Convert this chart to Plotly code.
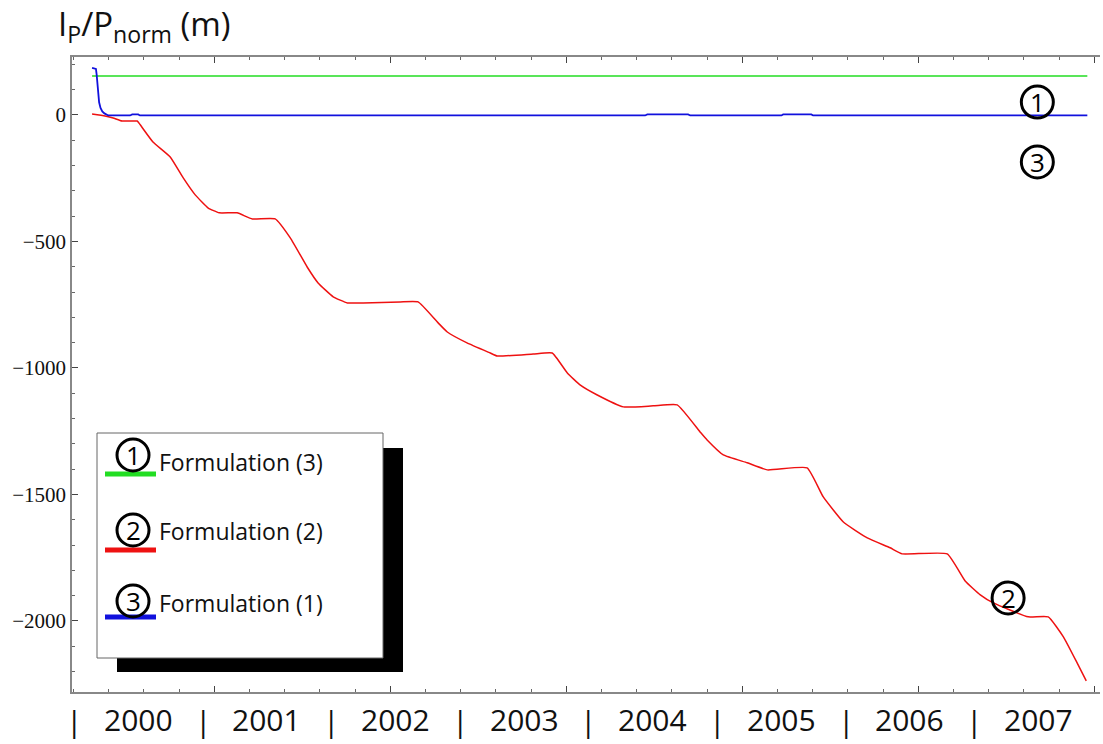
import plotly.graph_objects as go

# Time axis: days counted from 1 January 2000
red_day = [51, 88, 111, 136, 179, 182, 224, 273, 310, 344, 381, 412, 463, 506, 571,
           614, 662, 693, 736, 776, 821, 926, 977, 1034, 1060, 1116, 1182, 1202, 1304,
           1358, 1401, 1437, 1486, 1560, 1645, 1713, 1778, 1798, 1844, 1912, 1969, 2082,
           2128, 2185, 2253, 2318, 2352, 2480, 2531, 2574, 2611, 2710, 2767, 2810, 2849,
           2875]
red_val = [4, -4, -12, -24, -24, -28, -107, -166, -249, -316, -368, -387, -387, -411,
           -411, -486, -601, -664, -719, -743, -743, -739, -739, -822, -858, -901, -941,
           -953, -945, -941, -1020, -1067, -1107, -1154, -1150, -1146, -1253, -1285,
           -1344, -1375, -1403, -1395, -1510, -1609, -1672, -1711, -1735, -1735, -1842,
           -1897, -1929, -1984, -1984, -2063, -2166, -2237]

blue_day = [51, 62, 64, 66, 68, 71, 75, 80, 86, 97, 159, 165, 182, 187, 1622, 1628,
            1744, 1750, 2009, 2014, 2094, 2099, 2878]
blue_val = [186, 182, 160, 120, 82, 50, 28, 14, 6, -2, -2, 2, 2, -2, -2, 2, 2, -2, -2,
            2, 2, -2, -2]

green_day = [51, 2878]
green_val = [154, 154]

years = ["2000", "2001", "2002", "2003", "2004", "2005", "2006", "2007"]
legend_labels = ["Formulation (3)", "Formulation (2)", "Formulation (1)"]
legend_marks = ["1", "2", "3"]
legend_colors = ["#22dd22", "#ee1111", "#1111dd"]

YEAR_DAYS = 365.25
W, H = 1103, 744
ML, MR, MT, MB = 72, 3, 57, 52
PW, PH = W - ML - MR, H - MT - MB


def px_x(px):
    return (px - ML) / PW


def px_y(py):
    return (H - MB - py) / PH


fig = go.Figure()
fig.add_trace(go.Scatter(x=green_day, y=green_val, mode="lines",
                         line=dict(color="#22dd22", width=1.6), name=legend_labels[0]))
fig.add_trace(go.Scatter(x=red_day, y=red_val, mode="lines",
                         line=dict(color="#ee1111", width=1.5, shape="spline", smoothing=0.4),
                         name=legend_labels[1]))
fig.add_trace(go.Scatter(x=blue_day, y=blue_val, mode="lines",
                         line=dict(color="#1111dd", width=1.8), name=legend_labels[2]))

shapes = []
annotations = []

# y-axis title
annotations.append(dict(
    x=px_x(56), y=px_y(52), xref="paper", yref="paper", xanchor="left", yanchor="bottom",
    text="I<sub>P</sub>/P<sub>norm</sub> (m)", showarrow=False,
    font=dict(family="Open Sans", size=33, color="#111111")))

# Year labels and separators below the axis
for k, yr in enumerate(years):
    annotations.append(dict(
        x=(k + 0.5) * YEAR_DAYS, y=px_y(719), xref="x", yref="paper",
        xanchor="center", yanchor="middle", text=yr, showarrow=False,
        font=dict(family="Open Sans", size=30, color="#111111")))
for k in range(len(years) + 1):
    annotations.append(dict(
        x=k * YEAR_DAYS, y=px_y(720), xref="x", yref="paper",
        xanchor="center", yanchor="middle", text="|", showarrow=False,
        font=dict(family="Open Sans", size=30, color="#111111")))


def circled(xa, ya, xref, yref, digit, r=16):
    shapes.append(dict(type="circle", xref=xref, yref=yref,
                       xsizemode="pixel", ysizemode="pixel",
                       xanchor=xa, yanchor=ya, x0=-r, x1=r, y0=-r, y1=r,
                       line=dict(color="black", width=3), fillcolor="rgba(0,0,0,0)"))
    annotations.append(dict(x=xa, y=ya, xref=xref, yref=yref, text=digit,
                            showarrow=False, xanchor="center", yanchor="middle",
                            font=dict(family="Open Sans", size=26, color="black")))


# Curve tags
circled(2736, 51, "x", "y", "1")
circled(2736, -186, "x", "y", "3")
circled(2653, -1909, "x", "y", "2")

# Legend panel with drop shadow
shapes.append(dict(type="rect", xref="paper", yref="paper",
                   x0=px_x(117), x1=px_x(403), y0=px_y(672), y1=px_y(448),
                   fillcolor="black", line=dict(width=0)))
shapes.append(dict(type="rect", xref="paper", yref="paper",
                   x0=px_x(97), x1=px_x(383), y0=px_y(658), y1=px_y(433),
                   fillcolor="white", line=dict(color="#666666", width=1)))

row_text_y = [462, 531, 603]
row_mark_y = [455, 530, 601]
row_line_y = [474, 550, 617]
for lab, mark, col, ty, my, ly in zip(legend_labels, legend_marks, legend_colors,
                                      row_text_y, row_mark_y, row_line_y):
    shapes.append(dict(type="line", xref="paper", yref="paper",
                       x0=px_x(105), x1=px_x(156), y0=px_y(ly), y1=px_y(ly),
                       line=dict(color=col, width=5)))
    circled(px_x(133), px_y(my), "paper", "paper", mark)
    annotations.append(dict(x=px_x(157), y=px_y(ty), xref="paper", yref="paper",
                            xanchor="left", yanchor="middle", text=lab, showarrow=False,
                            font=dict(family="Open Sans", size=23, color="#111111")))

fig.update_layout(
    width=W, height=H,
    margin=dict(l=ML, r=MR, t=MT, b=MB),
    paper_bgcolor="white", plot_bgcolor="white",
    showlegend=False,
    shapes=shapes, annotations=annotations,
    xaxis=dict(range=[-6, 2914], showgrid=False, zeroline=False,
               showline=True, linecolor="#888888", linewidth=1.5, mirror="ticks",
               ticks="inside", ticklen=6, tickcolor="#444444",
               tick0=398, dtick=500, showticklabels=False,
               minor=dict(ticks="inside", ticklen=3, dtick=100, tick0=398,
                          tickcolor="#666666")),
    yaxis=dict(range=[-2281, 229], showgrid=False, zeroline=False,
               showline=True, linecolor="#888888", linewidth=1.5,
               ticks="inside", ticklen=6, tickcolor="#444444",
               tick0=0, dtick=500,
               tickfont=dict(family="Liberation Serif", size=21, color="#111111"),
               minor=dict(ticks="inside", ticklen=3, dtick=100, tickcolor="#666666")),
)

fig.write_html("out.html")
